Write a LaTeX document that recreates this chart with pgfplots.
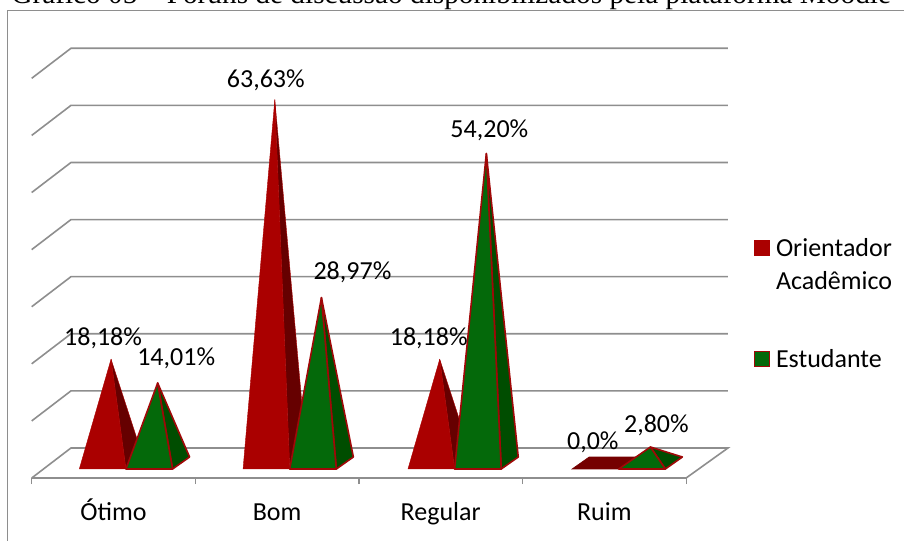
\documentclass[border=0pt]{standalone}
\usepackage{pgfplots}
\pgfplotsset{compat=1.18}
\usepackage{fontspec}
\setmainfont{Carlito}
\newfontfamily\titlefont{Liberation Serif}
\definecolor{redF}{HTML}{AA0000}
\definecolor{redS}{HTML}{660000}
\definecolor{redE}{HTML}{A00808}
\definecolor{greF}{HTML}{04690A}
\definecolor{greS}{HTML}{004D00}
\definecolor{gridc}{HTML}{8E8E8E}
\newcommand{\lf}{\fontsize{26}{33}\selectfont}
% left edge of the front of the base, value, front colour, side colour, outline colour, outline width
\newcommand{\pyr}[6]{%
  \pgfmathsetmacro\xr{#1+0.285}%
  \pgfmathsetmacro\xa{#1+0.194}%
  \pgfmathsetmacro\xb{#1+0.389}%
  \addplot[forget plot,fill=#4,draw=#5,line width=#6,line join=round] coordinates {(\xa,#2)(\xr,-1.05)(\xb,1.05)} --cycle;
  \addplot[forget plot,fill=#3,draw=#5,line width=#6,line join=round] coordinates {(\xa,#2)(#1,-1.05)(\xr,-1.05)} --cycle;
}
\newcommand{\lab}[5]{\node[font=\lf,inner sep=0pt,xshift=#3pt,yshift=#4pt] at (axis cs:#1,#2) {#5};}
\begin{document}
\begin{tikzpicture}
\begin{axis}[
  at={(0,0)},anchor=south west,
  scale only axis,width=654.4pt,height=430pt,
  xmin=0,xmax=4,ymin=-2.627,ymax=72.68,
  clip=false,enlargelimits=false,
  axis x line=bottom,axis y line=none,
  axis line style={-,gridc,line width=1.6pt},
  xtick={0,1,2,3,4},xticklabels={},
  extra x ticks={0.5,1.5,2.5,3.5},
  extra x tick labels={Ótimo,Bom,Regular,Ruim},
  extra x tick style={major tick length=0pt},
  tick align=outside,major tick length=6pt,
  tick style={gridc,line width=1.2pt},
  xticklabel style={font=\lf,text height=18pt,text depth=6pt,yshift=-21pt},
  legend style={draw=none,fill=none,at={(axis cs:4.414,40.6)},anchor=north west,
    inner sep=0pt,outer sep=0pt,
    cells={anchor=base west},
    legend cell align=left,font=\lf},
]
% walls and floor
\addplot[forget plot,gridc,line width=1.6pt] coordinates {(0,-2.63)(0.24,2.63)(4.256,2.63)(4,-2.63)};
\addplot[forget plot,gridc,line width=1.6pt] coordinates {(0,7.37)(0.24,12.63)(4.256,12.63)};
\addplot[forget plot,gridc,line width=1.6pt] coordinates {(0,17.37)(0.24,22.63)(4.256,22.63)};
\addplot[forget plot,gridc,line width=1.6pt] coordinates {(0,27.37)(0.24,32.63)(4.256,32.63)};
\addplot[forget plot,gridc,line width=1.6pt] coordinates {(0,37.37)(0.24,42.63)(4.256,42.63)};
\addplot[forget plot,gridc,line width=1.6pt] coordinates {(0,47.37)(0.24,52.63)(4.256,52.63)};
\addplot[forget plot,gridc,line width=1.6pt] coordinates {(0,57.37)(0.24,62.63)(4.256,62.63)};
\addplot[forget plot,gridc,line width=1.6pt] coordinates {(0,67.37)(0.24,72.63)(4.256,72.63)};
% pyramids
\pyr{0.291}{18.18}{redF}{redS}{redF}{0.4pt}
\pyr{0.576}{14.01}{greF}{greS}{redE}{1.6pt}
\pyr{1.292}{63.63}{redF}{redS}{redF}{0.4pt}
\pyr{1.577}{28.97}{greF}{greS}{redE}{1.6pt}
\pyr{2.300}{18.18}{redF}{redS}{redF}{0.4pt}
\pyr{2.585}{54.20}{greF}{greS}{redE}{1.6pt}
% Ruim, Orientador: value 0, only the flat base is seen
\addplot[forget plot,fill=redS!90!red,draw=redS!90!red,line width=.6pt] coordinates {(3.303,-1.05)(3.588,-1.05)(3.692,1.05)(3.407,1.05)} --cycle;
\pyr{3.588}{2.80}{greF}{greS}{redE}{1.6pt}
% labels
\lab{0.485}{18.18}{-8}{21}{18,18\%}
\lab{0.770}{14.01}{18.5}{25}{14,01\%}
\lab{1.486}{63.63}{-9}{19}{63,63\%}
\lab{1.771}{28.97}{31}{25.5}{28,97\%}
\lab{2.494}{18.18}{-11}{21}{18,18\%}
\lab{2.779}{54.20}{3}{23.5}{54,20\%}
\lab{3.497}{0}{-11}{21}{0,0\%}
\lab{3.782}{2.80}{6}{22}{2,80\%}
% legend
\addlegendimage{legend image code/.code={\fill[redF] (0pt,-10pt) rectangle (15pt,5pt);}}
\addlegendentry{\hspace*{4pt}\begin{tabular}[t]{@{}l@{}}Orientador\\Acadêmico\end{tabular}}
\addlegendimage{legend image code/.code={\draw[fill=greF,draw=redE,line width=1.2pt] (0pt,-51pt) rectangle (15pt,-36pt);}}
\addlegendentry{\hspace*{4pt}\rule{0pt}{106pt}Estudante}
\end{axis}
% chart frame
\draw[gridc,line width=1.3pt] (872.3pt,467.5pt) -- (-24.2pt,467.5pt) -- (-24.2pt,-63pt);
% caption above the frame
\node[font=\titlefont\fontsize{29.3}{30}\selectfont,anchor=base,inner sep=0pt] at (419.5pt,474.5pt) {Gráfico 05 – Fóruns de discussão disponibilizados pela plataforma Moodle};
\pgfresetboundingbox
\useasboundingbox (-31.7pt,-63pt) rectangle (872.3pt,478pt);
\end{tikzpicture}
\end{document}
